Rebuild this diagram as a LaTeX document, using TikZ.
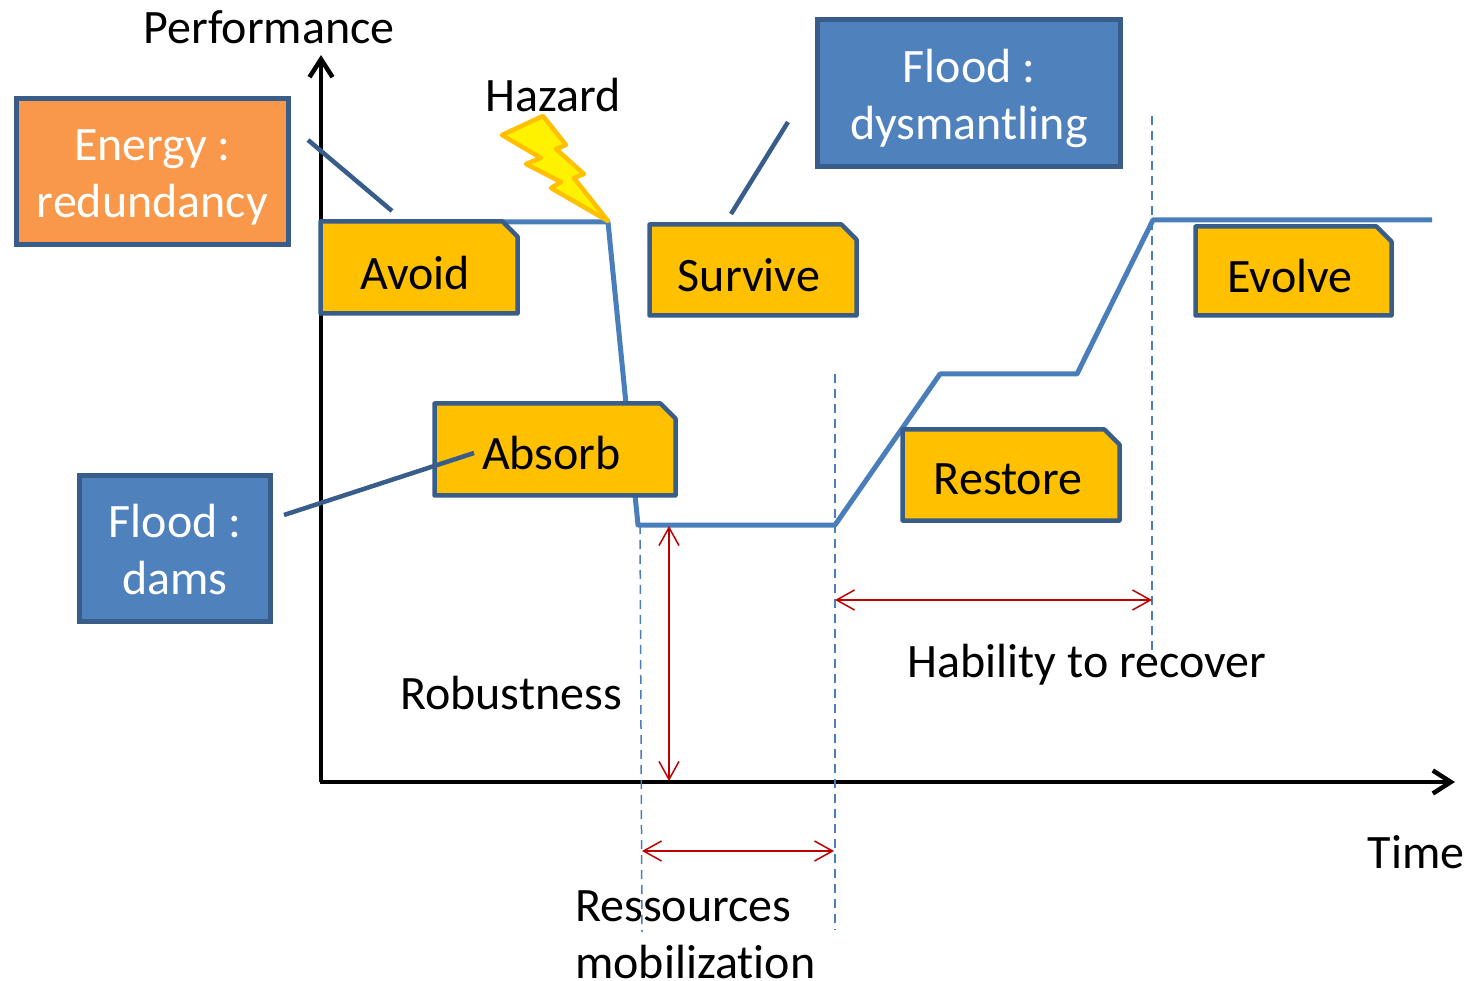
\documentclass[tikz,border=0pt]{standalone}
\usepackage{fontspec}
\setmainfont{Carlito}[Ligatures=NoCommon]
\usetikzlibrary{arrows.meta,shapes.misc}
\definecolor{boxblue}{HTML}{4F81BD}
\definecolor{edgeblue}{HTML}{385D8A}
\definecolor{curveblue}{HTML}{4A7EBB}
\definecolor{boxorange}{HTML}{F9984A}
\definecolor{boxyellow}{HTML}{FFC000}
\definecolor{darkred}{HTML}{C00000}
\newcommand{\boxlabel}[3]{\hspace*{#1pt}\smash{\raisebox{#2pt}{#3}}}
\newcommand{\lineone}{\rule{0pt}{35pt}}
\tikzset{
  x=1pt,y=-1pt,
  every node/.style={font=\fontsize{48}{57}\selectfont},
  txt/.style={anchor=base,inner sep=0pt,text=black},
  txtl/.style={anchor=base west,inner sep=0pt,align=left,text=black},
  infobox/.style={rectangle,draw=edgeblue,line width=5pt,text=white,align=center,inner sep=0pt,text depth=0pt,line join=miter},
  snipbox/.style={chamfered rectangle,chamfered rectangle corners=north east,chamfered rectangle xsep=15pt,chamfered rectangle ysep=15pt,
     draw=edgeblue,fill=boxyellow,line width=4.5pt,text=black,inner sep=0pt,text height=0pt,text depth=0pt,line join=round},
  axisline/.style={black,line width=4.5pt,-{Straight Barb[length=18pt,width=23pt,line width=4.5pt]}},
  curve/.style={curveblue,line width=5pt,line join=round},
  callout/.style={edgeblue,line width=4.5pt},
  guide/.style={curveblue,line width=1.5pt,dash pattern=on 9pt off 6pt},
  measure/.style={darkred,line width=1.5pt,{Straight Barb[length=18pt,width=20pt,line width=1.5pt]}-{Straight Barb[length=18pt,width=20pt,line width=1.5pt]}},
}
\begin{document}
\begin{tikzpicture}
\useasboundingbox (0,0) rectangle (1468,981);
% coordinates
\coordinate (o) at (321,782);
\coordinate (ytip) at (321,55);
\coordinate (xtip) at (1455,782);
\coordinate (c0) at (321,222);
\coordinate (c1) at (608,222);
\coordinate (c2) at (638,525);
\coordinate (c3) at (835,525);
\coordinate (c4) at (940,374);
\coordinate (c5) at (1077,374);
\coordinate (c6) at (1153,220);
\coordinate (c7) at (1432,220);
% axes
\draw[axisline] (o) -- (ytip);
\draw[axisline] (320,782) -- (xtip);
% guides
\coordinate (g1a) at (640,525); \coordinate (g1b) at (642,932);
\coordinate (g2a) at (835,374); \coordinate (g2b) at (835,930);
\coordinate (g3a) at (1152,116); \coordinate (g3b) at (1152,660);
\draw[guide] (g1a) -- (g1b);
\draw[guide] (g2a) -- (g2b);
\draw[guide] (g3a) -- (g3b);
% performance curve
\draw[curve] (c0) -- (c1) -- (c2) -- (c3) -- (c4) -- (c5) -- (c6) -- (c7);
% lightning
\draw[draw=boxyellow,fill=yellow,line width=4.5pt,line join=round]
  (502,135) -- (543,116) -- (566,145) -- (556,149) -- (584,174) -- (574,178) -- (608,221)
  -- (551,188) -- (561,182) -- (526,164) -- (541,158) -- cycle;
% measures
\coordinate (m1a) at (669,526); \coordinate (m1b) at (669,781);
\coordinate (m2a) at (835,600); \coordinate (m2b) at (1152,600);
\coordinate (m3a) at (642,851); \coordinate (m3b) at (834,851);
\draw[measure] (m1a) -- (m1b);
\draw[measure] (m2a) -- (m2b);
\draw[measure] (m3a) -- (m3b);
% yellow boxes
\node[snipbox,minimum width=197pt,minimum height=92pt] (avoid) at (419,267.5) {\boxlabel{-8}{-22.5}{Avoid}};
\node[snipbox,minimum width=207pt,minimum height=91pt] (survive) at (753,270) {\boxlabel{-8}{-21.5}{Survive}};
\node[snipbox,minimum width=196pt,minimum height=89pt] (evolve) at (1293.5,271) {\boxlabel{-7}{-22}{Evolve}};
\node[snipbox,minimum width=217pt,minimum height=91pt] (restore) at (1011,475) {\boxlabel{-6}{-20}{Restore}};
\node[snipbox,minimum width=241pt,minimum height=92pt] (absorb) at (555,449.5) {\boxlabel{-7}{-20.5}{Absorb}};
% information boxes
\node[infobox,fill=boxblue,minimum width=303pt,minimum height=147pt] (dysm) at (969,93.5) {\lineone Flood :\\dysmantling};
\node[infobox,fill=boxorange,minimum width=272pt,minimum height=146pt] (energy) at (152.5,172) {\lineone Energy :\\redundancy};
\node[infobox,fill=boxblue,minimum width=191pt,minimum height=146pt] (dams) at (175,548.5) {\lineone Flood :\\dams};
% callouts
\coordinate (ca) at (308,140); \coordinate (cb) at (392,211);
\coordinate (cc) at (788,122); \coordinate (cd) at (731,214);
\coordinate (ce) at (474,453); \coordinate (cf) at (284,515);
\draw[callout] (ca) -- (cb);
\draw[callout] (cc) -- (cd);
\draw[callout] (ce) -- (cf);
% labels
\node[txt] (perf) at (269,44) {Performance};
\node[txt] (hazard) at (553,112) {Hazard};
\node[txt] (time) at (1416,868) {Time};
\node[txt] (robust) at (511,709) {Robustness};
\node[txt] (recover) at (1087,677) {Hability to recover};
\node[txtl] (res) at (575,978) {Ressources\\mobilization};
\end{tikzpicture}
\end{document}
